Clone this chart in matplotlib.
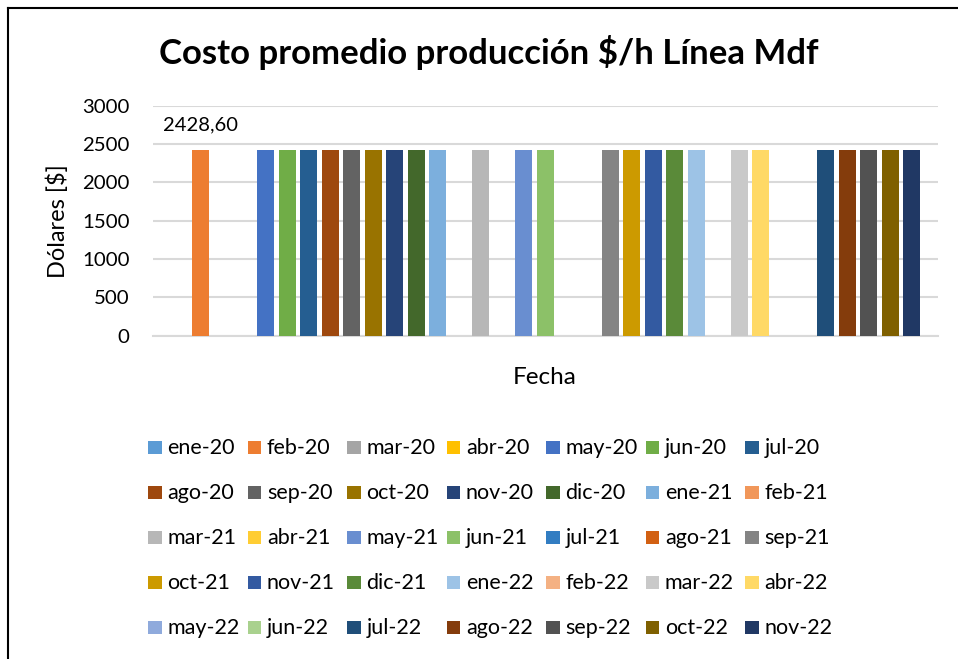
import numpy as np
import matplotlib
matplotlib.use("Agg")
import matplotlib.pyplot as plt
from matplotlib.patches import Rectangle
from matplotlib.lines import Line2D

plt.rcParams['font.family'] = ['Lato', 'DejaVu Sans']

# Monthly average production cost ($/h) for the Mdf line; None = no data
months = ['ene-20', 'feb-20', 'mar-20', 'abr-20', 'may-20', 'jun-20', 'jul-20',
          'ago-20', 'sep-20', 'oct-20', 'nov-20', 'dic-20', 'ene-21', 'feb-21',
          'mar-21', 'abr-21', 'may-21', 'jun-21', 'jul-21', 'ago-21', 'sep-21',
          'oct-21', 'nov-21', 'dic-21', 'ene-22', 'feb-22', 'mar-22', 'abr-22',
          'may-22', 'jun-22', 'jul-22', 'ago-22', 'sep-22', 'oct-22', 'nov-22']
costs = [None, 2428.60, None, None, 2428.60, 2428.60, 2428.60,
         2428.60, 2428.60, 2428.60, 2428.60, 2428.60, 2428.60, None,
         2428.60, None, 2428.60, 2428.60, None, None, 2428.60,
         2428.60, 2428.60, 2428.60, 2428.60, None, 2428.60, 2428.60,
         None, None, 2428.60, 2428.60, 2428.60, 2428.60, 2428.60]
colors = ['#5B9BD5', '#ED7D31', '#A5A5A5', '#FFC000', '#4472C4', '#70AD47', '#255E91',
          '#9E480E', '#636363', '#997300', '#264478', '#43682B', '#7CAFDD', '#F1975A',
          '#B7B7B7', '#FFCD33', '#698ED0', '#8CC168', '#327DC2', '#D26012', '#848484',
          '#CC9A00', '#335AA1', '#5A8A39', '#9DC3E6', '#F4B183', '#C9C9C9', '#FFD966',
          '#8FAADC', '#A9D18E', '#1F4E79', '#843C0C', '#525252', '#7F6000', '#203864']
labelled = ['feb-20']
yticks = [0, 500, 1000, 1500, 2000, 2500, 3000]

W, H = 958, 659
fig = plt.figure(figsize=(W / 100, H / 100), dpi=100)


def fx(px):
    return px / W


def fy(py):
    return 1 - py / H


ax = fig.add_axes([fx(153), fy(335.7), fx(938 - 153), (335.7 - 105.7) / H])

n = len(months)
slot = 0.02744
width = 0.02166
bars = []
for i, (m, v, c) in enumerate(zip(months, costs, colors)):
    val = np.nan if v is None else v
    xpos = (i - (n - 1) / 2) * slot
    b = ax.bar(xpos, val, width, color=c, label=m, zorder=3)
    bars.append(b)
    if m in labelled and v is not None:
        ax.annotate(f"{v:.2f}".replace('.', ','), (xpos, v), xytext=(0, 17.6),
                    textcoords='offset points', ha='center', va='center',
                    fontsize=14.5, color='#000000')

ax.set_xlim(-0.5, 0.5)
ax.set_ylim(0, 3000)
ax.set_yticks(yticks)
ax.set_yticklabels([str(t) for t in yticks])
ax.set_xticks([])
ax.tick_params(axis='y', length=0, pad=17, labelsize=14.7, labelcolor='#000000')
for s in ['left', 'right', 'top']:
    ax.spines[s].set_visible(False)
ax.spines['bottom'].set_color('#D9D9D9')
ax.spines['bottom'].set_linewidth(1.5)
ax.grid(axis='y', color='#D9D9D9', linewidth=1.5, zorder=0)
ax.set_axisbelow(True)

fig.text(fx(489), fy(53), 'Costo promedio producción $/h Línea Mdf',
         ha='center', va='center', fontsize=25, fontweight='bold')
fig.text(fx(58), fy(221), 'Dólares [$]', ha='center', va='center',
         rotation=90, fontsize=17)
fig.text(fx(545), fy(378), 'Fecha', ha='center', va='center', fontsize=17.5)

# Legend laid out row by row in equal-width columns
ncol = 7
col_x = 148.3
col_step = 99.5
row_y = 447.7
row_step = 45
sq = 13.3
for i, (m, b) in enumerate(zip(months, bars)):
    r, c = divmod(i, ncol)
    x0 = col_x + c * col_step
    yc = row_y + r * row_step
    fig.add_artist(Rectangle((fx(x0), fy(yc + sq / 2)), sq / W, sq / H,
                             transform=fig.transFigure,
                             facecolor=b.patches[0].get_facecolor(),
                             edgecolor='none'))
    fig.text(fx(x0 + 19), fy(yc), m, ha='left', va='center', fontsize=15.5)

# Chart frame
fig.add_artist(Line2D([fx(7.5), fx(7.5)], [0, fy(7.5)], transform=fig.transFigure,
                      color='black', linewidth=1.5))
fig.add_artist(Line2D([fx(7.5), 1], [fy(7.5), fy(7.5)], transform=fig.transFigure,
                      color='black', linewidth=1.5))

fig.savefig('out.png', dpi=100)
